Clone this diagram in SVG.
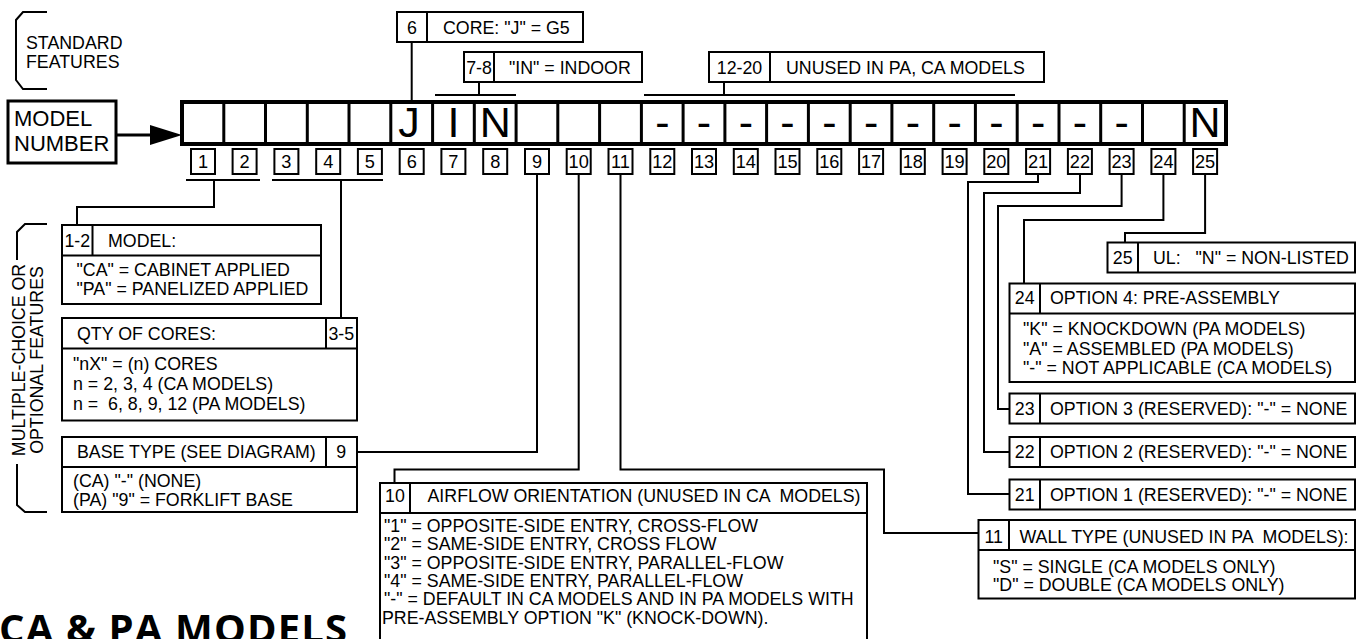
<svg xmlns="http://www.w3.org/2000/svg" width="1365" height="639" viewBox="0 0 1365 639">
<style>
.box{fill:#fff;stroke:#000;stroke-width:2}
.ln{fill:none;stroke:#000;stroke-width:2}
.t{font-family:"Liberation Sans",Arial,sans-serif;font-size:17.8px;fill:#000}
.n{font-size:18.2px}
.c{text-anchor:middle}
.big{font-family:"Liberation Sans",Arial,sans-serif;font-size:43px;fill:#000;text-anchor:middle}
.title{font-family:"Open Sans","Noto Sans",sans-serif;font-weight:700;font-size:40px;fill:#000}
</style>
<rect width="1365" height="639" fill="#fff"/>

<!-- brackets -->
<g id="standard-features">
<path class="ln" d="M47,12 H23 L16,20 V80 L23,89 H47"/>
<text class="t" x="26" y="48.5">STANDARD</text>
<text class="t" x="26" y="68">FEATURES</text>
</g>
<g id="optional-features">
<path class="ln" d="M47,224 H25 L17,232 V260"/>
<path class="ln" d="M17,464 V505 L25,512 H47"/>
<text class="t c" transform="translate(25,360) rotate(-90)">MULTIPLE-CHOICE OR</text>
<text class="t c" transform="translate(42.5,360) rotate(-90)">OPTIONAL FEATURES</text>
</g>

<!-- model number -->
<g id="model-number-label">
<rect x="8" y="101" width="108" height="62" fill="#fff" stroke="#000" stroke-width="3"/>
<text x="14" y="125.5" style="font-family:'Liberation Sans',Arial,sans-serif;font-size:22px">MODEL</text>
<text x="14" y="150.5" style="font-family:'Liberation Sans',Arial,sans-serif;font-size:22px">NUMBER</text>
</g>

<g id="model-number-row">
<rect x="182" y="102" width="1044" height="42" fill="#fff" stroke="#000" stroke-width="4"/>
<path stroke="#000" stroke-width="3" d="M223.8,102V144M265.5,102V144M307.3,102V144M349,102V144M390.8,102V144M432.6,102V144M474.3,102V144M516.1,102V144M557.8,102V144M599.6,102V144M641.4,102V144M683.1,102V144M724.9,102V144M766.6,102V144M808.4,102V144M850.2,102V144M891.9,102V144M933.7,102V144M975.4,102V144M1017.2,102V144M1059,102V144M1100.7,102V144M1142.5,102V144M1184.2,102V144"/>
<text class="big" x="409" y="137">J</text>
<text class="big" x="453.4" y="137">I</text>
<text class="big" x="495.3" y="137">N</text>
<text class="big" x="662.3" y="137">-</text>
<text class="big" x="704" y="137">-</text>
<text class="big" x="745.8" y="137">-</text>
<text class="big" x="787.5" y="137">-</text>
<text class="big" x="829.3" y="137">-</text>
<text class="big" x="871.1" y="137">-</text>
<text class="big" x="912.8" y="137">-</text>
<text class="big" x="954.6" y="137">-</text>
<text class="big" x="996.3" y="137">-</text>
<text class="big" x="1038.1" y="137">-</text>
<text class="big" x="1079.9" y="137">-</text>
<text class="big" x="1121.6" y="137">-</text>
<text class="big" x="1205.1" y="137">N</text>
</g>

<g id="position-numbers">
<rect class="box" x="191" y="149" width="24" height="25"/><text class="t n c" x="203" y="168">1</text>
<rect class="box" x="232.6" y="149" width="24" height="25"/><text class="t n c" x="244.6" y="168">2</text>
<rect class="box" x="274.4" y="149" width="24" height="25"/><text class="t n c" x="286.4" y="168">3</text>
<rect class="box" x="316.2" y="149" width="24" height="25"/><text class="t n c" x="328.2" y="168">4</text>
<rect class="box" x="357.9" y="149" width="24" height="25"/><text class="t n c" x="369.9" y="168">5</text>
<rect class="box" x="399.7" y="149" width="24" height="25"/><text class="t n c" x="411.7" y="168">6</text>
<rect class="box" x="441.4" y="149" width="24" height="25"/><text class="t n c" x="453.4" y="168">7</text>
<rect class="box" x="483.2" y="149" width="24" height="25"/><text class="t n c" x="495.2" y="168">8</text>
<rect class="box" x="525" y="149" width="24" height="25"/><text class="t n c" x="537" y="168">9</text>
<rect class="box" x="566.7" y="149" width="24" height="25"/><text class="t n c" x="578.7" y="168">10</text>
<rect class="box" x="608.5" y="149" width="24" height="25"/><text class="t n c" x="620.5" y="168">11</text>
<rect class="box" x="650.3" y="149" width="24" height="25"/><text class="t n c" x="662.3" y="168">12</text>
<rect class="box" x="692" y="149" width="24" height="25"/><text class="t n c" x="704" y="168">13</text>
<rect class="box" x="733.8" y="149" width="24" height="25"/><text class="t n c" x="745.8" y="168">14</text>
<rect class="box" x="775.5" y="149" width="24" height="25"/><text class="t n c" x="787.5" y="168">15</text>
<rect class="box" x="817.3" y="149" width="24" height="25"/><text class="t n c" x="829.3" y="168">16</text>
<rect class="box" x="859.1" y="149" width="24" height="25"/><text class="t n c" x="871.1" y="168">17</text>
<rect class="box" x="900.8" y="149" width="24" height="25"/><text class="t n c" x="912.8" y="168">18</text>
<rect class="box" x="942.6" y="149" width="24" height="25"/><text class="t n c" x="954.6" y="168">19</text>
<rect class="box" x="984.3" y="149" width="24" height="25"/><text class="t n c" x="996.3" y="168">20</text>
<rect class="box" x="1026.1" y="149" width="24" height="25"/><text class="t n c" x="1038.1" y="168">21</text>
<rect class="box" x="1067.9" y="149" width="24" height="25"/><text class="t n c" x="1079.9" y="168">22</text>
<rect class="box" x="1109.6" y="149" width="24" height="25"/><text class="t n c" x="1121.6" y="168">23</text>
<rect class="box" x="1151.4" y="149" width="24" height="25"/><text class="t n c" x="1163.4" y="168">24</text>
<rect class="box" x="1193.1" y="149" width="24" height="25"/><text class="t n c" x="1205.1" y="168">25</text>
</g>

<!-- connectors -->
<g id="connectors">
<path class="ln" d="M411.7,42V102"/>
<path class="ln" d="M435,95H516M479,82V95"/>
<path class="ln" d="M644,95H1015M724,82V95"/>
<path class="ln" d="M186,180H260M214,180V207H77V225"/>
<path class="ln" d="M272,180H383M341,180V318"/>
<path class="ln" d="M537,174V452H357"/>
<path class="ln" d="M578.7,174V469.5H394.5V483"/>
<path class="ln" d="M620.5,174V469.5H884V533H978"/>
<path class="ln" d="M1038,174V182H968V494H1009"/>
<path class="ln" d="M1080,174V193H984V452H1009"/>
<path class="ln" d="M1121.6,174V206H998V409H1009"/>
<path class="ln" d="M1163.4,174V220H1024V283"/>
<path class="ln" d="M1205.1,174V233H1125V242"/>
<path d="M116,135H152" stroke="#000" stroke-width="3"/>
<polygon points="150,125 182,135 150,145" fill="#000"/>
</g>

<!-- top nodes -->
<g id="node-6">
<rect class="box" x="397" y="12" width="30" height="30"/>
<rect class="box" x="427" y="12" width="156" height="30"/>
<text class="t c" x="412" y="33.5">6</text>
<text class="t" x="443" y="33.5">CORE: "J" = G5</text>
</g>
<g id="node-7-8">
<rect class="box" x="464" y="52" width="30" height="30"/>
<rect class="box" x="494" y="52" width="148" height="30"/>
<text class="t c" x="479" y="73.5">7-8</text>
<text class="t" x="509" y="73.5">"IN" = INDOOR</text>
</g>
<g id="node-12-20">
<rect class="box" x="709" y="52" width="61" height="30"/>
<rect class="box" x="770" y="52" width="274" height="30"/>
<text class="t c" x="739.5" y="73.5">12-20</text>
<text class="t" x="786" y="73.5">UNUSED IN PA, CA MODELS</text>
</g>

<!-- left nodes -->
<g id="node-1-2">
<rect class="box" x="62" y="225" width="259" height="79"/>
<path class="ln" d="M62,255.5H321M92.5,225V255.5"/>
<text class="t c" x="77.3" y="247">1-2</text>
<text class="t" x="108" y="247">MODEL:</text>
<text class="t" x="76.5" y="276">"CA" = CABINET APPLIED</text>
<text class="t" x="76.5" y="295">"PA" = PANELIZED APPLIED</text>
</g>
<g id="node-3-5">
<rect class="box" x="62" y="318" width="295" height="102.5"/>
<path class="ln" d="M62,348.5H357M326,318V348.5"/>
<text class="t c" x="341.3" y="340">3-5</text>
<text class="t" x="77" y="340">QTY OF CORES:</text>
<text class="t" x="73" y="370">"nX" = (n) CORES</text>
<text class="t" x="73" y="390">n = 2, 3, 4 (CA MODELS)</text>
<text class="t" x="73" y="410" xml:space="preserve">n =  6, 8, 9, 12 (PA MODELS)</text>
</g>
<g id="node-9">
<rect class="box" x="62" y="437" width="295" height="75"/>
<path class="ln" d="M62,467H357M326,437V467"/>
<text class="t c" x="341.3" y="458">9</text>
<text class="t" x="77" y="458">BASE TYPE (SEE DIAGRAM)</text>
<text class="t" x="73" y="487">(CA) "-" (NONE)</text>
<text class="t" x="73" y="505.5">(PA) "9" = FORKLIFT BASE</text>
</g>

<!-- bottom middle node -->
<g id="node-10">
<rect class="box" x="380" y="483" width="487" height="170"/>
<path class="ln" d="M380,513H867M410,483V513"/>
<text class="t c" x="395" y="501.5">10</text>
<text class="t" x="427.5" y="501.5" xml:space="preserve">AIRFLOW ORIENTATION (UNUSED IN CA  MODELS)</text>
<text class="t" x="384" y="532">"1" = OPPOSITE-SIDE ENTRY, CROSS-FLOW</text>
<text class="t" x="384" y="550.3">"2" = SAME-SIDE ENTRY, CROSS FLOW</text>
<text class="t" x="384" y="568.6">"3" = OPPOSITE-SIDE ENTRY, PARALLEL-FLOW</text>
<text class="t" x="384" y="586.9">"4" = SAME-SIDE ENTRY, PARALLEL-FLOW</text>
<text class="t" x="384" y="605.2">"-" = DEFAULT IN CA MODELS AND IN PA MODELS WITH</text>
<text class="t" x="382" y="623.5">PRE-ASSEMBLY OPTION "K" (KNOCK-DOWN).</text>
</g>

<!-- right nodes -->
<g id="node-25">
<rect class="box" x="1107.5" y="242.5" width="247.5" height="30"/>
<path class="ln" d="M1138,242.5V272.5"/>
<text class="t c" x="1122.7" y="264">25</text>
<text class="t" x="1153" y="264" xml:space="preserve">UL:   "N" = NON-LISTED</text>
</g>
<g id="node-24">
<rect class="box" x="1009.5" y="283.5" width="345.5" height="98.5"/>
<path class="ln" d="M1009.5,313.5H1355M1040,283.5V313.5"/>
<text class="t c" x="1024.7" y="304">24</text>
<text class="t" x="1050" y="304">OPTION 4: PRE-ASSEMBLY</text>
<text class="t" x="1023" y="334.5">"K" = KNOCKDOWN (PA MODELS)</text>
<text class="t" x="1023" y="355">"A" = ASSEMBLED (PA MODELS)</text>
<text class="t" x="1023" y="374">"-" = NOT APPLICABLE (CA MODELS)</text>
</g>
<g id="node-23">
<rect class="box" x="1009.5" y="393.5" width="345.5" height="30"/>
<path class="ln" d="M1040,393.5V423.5"/>
<text class="t c" x="1024.7" y="414.5">23</text>
<text class="t" x="1050" y="414.5">OPTION 3 (RESERVED): "-" = NONE</text>
</g>
<g id="node-22">
<rect class="box" x="1009.5" y="437" width="345.5" height="30"/>
<path class="ln" d="M1040,437V467"/>
<text class="t c" x="1024.7" y="458">22</text>
<text class="t" x="1050" y="458">OPTION 2 (RESERVED): "-" = NONE</text>
</g>
<g id="node-21">
<rect class="box" x="1009.5" y="479.5" width="345.5" height="30"/>
<path class="ln" d="M1040,479.5V509.5"/>
<text class="t c" x="1024.7" y="500.5">21</text>
<text class="t" x="1050" y="500.5">OPTION 1 (RESERVED): "-" = NONE</text>
</g>
<g id="node-11">
<rect class="box" x="978.5" y="520" width="376.5" height="78.5"/>
<path class="ln" d="M978.5,550H1355M1009,520V550"/>
<text class="t c" x="993.7" y="542.5">11</text>
<text class="t" x="1019.5" y="542.5" xml:space="preserve">WALL TYPE (UNUSED IN PA  MODELS):</text>
<text class="t" x="993" y="572.5">"S" = SINGLE (CA MODELS ONLY)</text>
<text class="t" x="993" y="591">"D" = DOUBLE (CA MODELS ONLY)</text>
</g>

<g id="title">
<text class="title" x="-1" y="643" textLength="348" lengthAdjust="spacing">CA &amp; PA MODELS</text>
</g>
</svg>
